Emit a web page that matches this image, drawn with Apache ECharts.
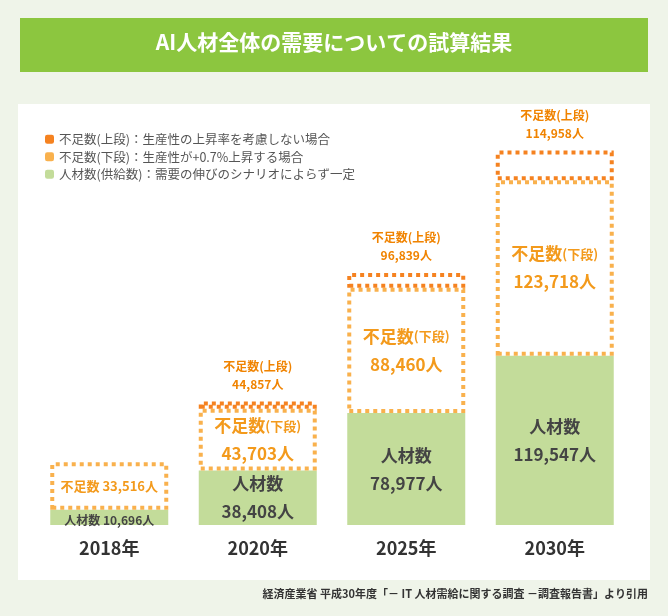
<!DOCTYPE html>
<html><head><meta charset="utf-8">
<script src="https://cdn.jsdelivr.net/npm/echarts@6/dist/echarts.min.js"></script>
<style>html,body{margin:0;padding:0;background:#eff4e9}#c{width:668px;height:616px}</style>
</head><body><div id="c"></div>
<script>
const categories = ['2018年','2020年','2025年','2030年'];
const supply = [10696, 38408, 78977, 119547];
const shortageLower = [33516, 43703, 88460, 123718];
const shortageUpperLabel = [null, 44857, 96839, 114958];
const upperExtra = ['-', 5000, 10500, 21000];
const fmt = v => v.toLocaleString('en-US');
const F = '"Noto Sans CJK JP", sans-serif';
const chart = echarts.init(document.getElementById('c'));
chart.setOption({
  animation:false,
  textStyle:{fontFamily:F},
  graphic:[
    {type:'rect',shape:{x:20,y:18,width:628,height:54},style:{fill:'#8cc63f'}},
    {type:'text',left:'center',top:32,style:{text:'AI人材全体の需要についての試算結果',fill:'#fff',font:'bold 21px '+F}},
    {type:'rect',z:-1,shape:{x:18,y:104,width:632,height:476},style:{fill:'#fff'}},
    {type:'text',right:20,top:588,style:{text:'経済産業省 平成30年度「－ IT 人材需給に関する調査 －調査報告書」より引用',fill:'#333',font:'bold 11px '+F}}
  ],
  legend:{orient:'vertical',left:40,top:128,itemWidth:9,itemHeight:9,itemGap:5,
    textStyle:{color:'#555',fontSize:12.5,fontFamily:F},
    data:[
      {name:'不足数(上段)：生産性の上昇率を考慮しない場合',itemStyle:{color:'#f58220',borderWidth:0}},
      {name:'不足数(下段)：生産性が+0.7%上昇する場合',itemStyle:{color:'#f9b14d',borderWidth:0}},
      {name:'人材数(供給数)：需要の伸びのシナリオによらず一定',itemStyle:{color:'#c3dc9a',borderWidth:0}}
    ]},
  grid:{left:35,right:39,top:100,bottom:91},
  xAxis:{type:'category',data:categories,axisLine:{show:false},axisTick:{show:false},
    axisLabel:{color:'#333',fontSize:18,fontWeight:'bold',margin:14}},
  yAxis:{type:'value',min:0,max:300000,show:false},
  series:[
    {name:'人材数(供給数)：需要の伸びのシナリオによらず一定',type:'bar',stack:'a',barWidth:118,data:supply,
     itemStyle:{color:'#c3dc9a'},
     label:{show:true,position:'inside',color:'#444',fontFamily:F,
       formatter:p=>p.dataIndex===0?'{s|人材数 '+fmt(p.value)+'人}':'{b|人材数\n'+fmt(p.value)+'人}',
       rich:{s:{fontSize:12,fontWeight:'bold',color:'#444',padding:[6,0,0,0]},b:{fontSize:17,fontWeight:'bold',color:'#444',lineHeight:28}}}},
    {name:'不足数(下段)：生産性が+0.7%上昇する場合',type:'bar',stack:'a',data:shortageLower,
     itemStyle:{color:'rgba(255,255,255,0)',borderColor:'#f9b14d',borderWidth:4,borderType:'dotted'},
     label:{show:true,position:'inside',fontFamily:F,
       formatter:p=>p.dataIndex===0?'{s|不足数 '+fmt(p.value)+'人}':'{b|不足数}{m|(下段)}\n{b|'+fmt(p.value)+'人}',
       rich:{s:{fontSize:13,fontWeight:'bold',color:'#f39a1c'},b:{fontSize:17,fontWeight:'bold',color:'#f39a1c',lineHeight:28},m:{fontSize:13,fontWeight:'bold',color:'#f39a1c'}}}},
    {name:'不足数(上段)：生産性の上昇率を考慮しない場合',type:'bar',stack:'a',data:upperExtra,
     itemStyle:{color:'rgba(255,255,255,0)',borderColor:'#f58220',borderWidth:4,borderType:'dotted'},
     label:{show:true,position:'top',distance:8,color:'#f08300',fontSize:12,fontWeight:'bold',lineHeight:18,fontFamily:F,
       formatter:p=>shortageUpperLabel[p.dataIndex]==null?'':'不足数(上段)\n'+fmt(shortageUpperLabel[p.dataIndex])+'人'}}
  ]
});
</script></body></html>
